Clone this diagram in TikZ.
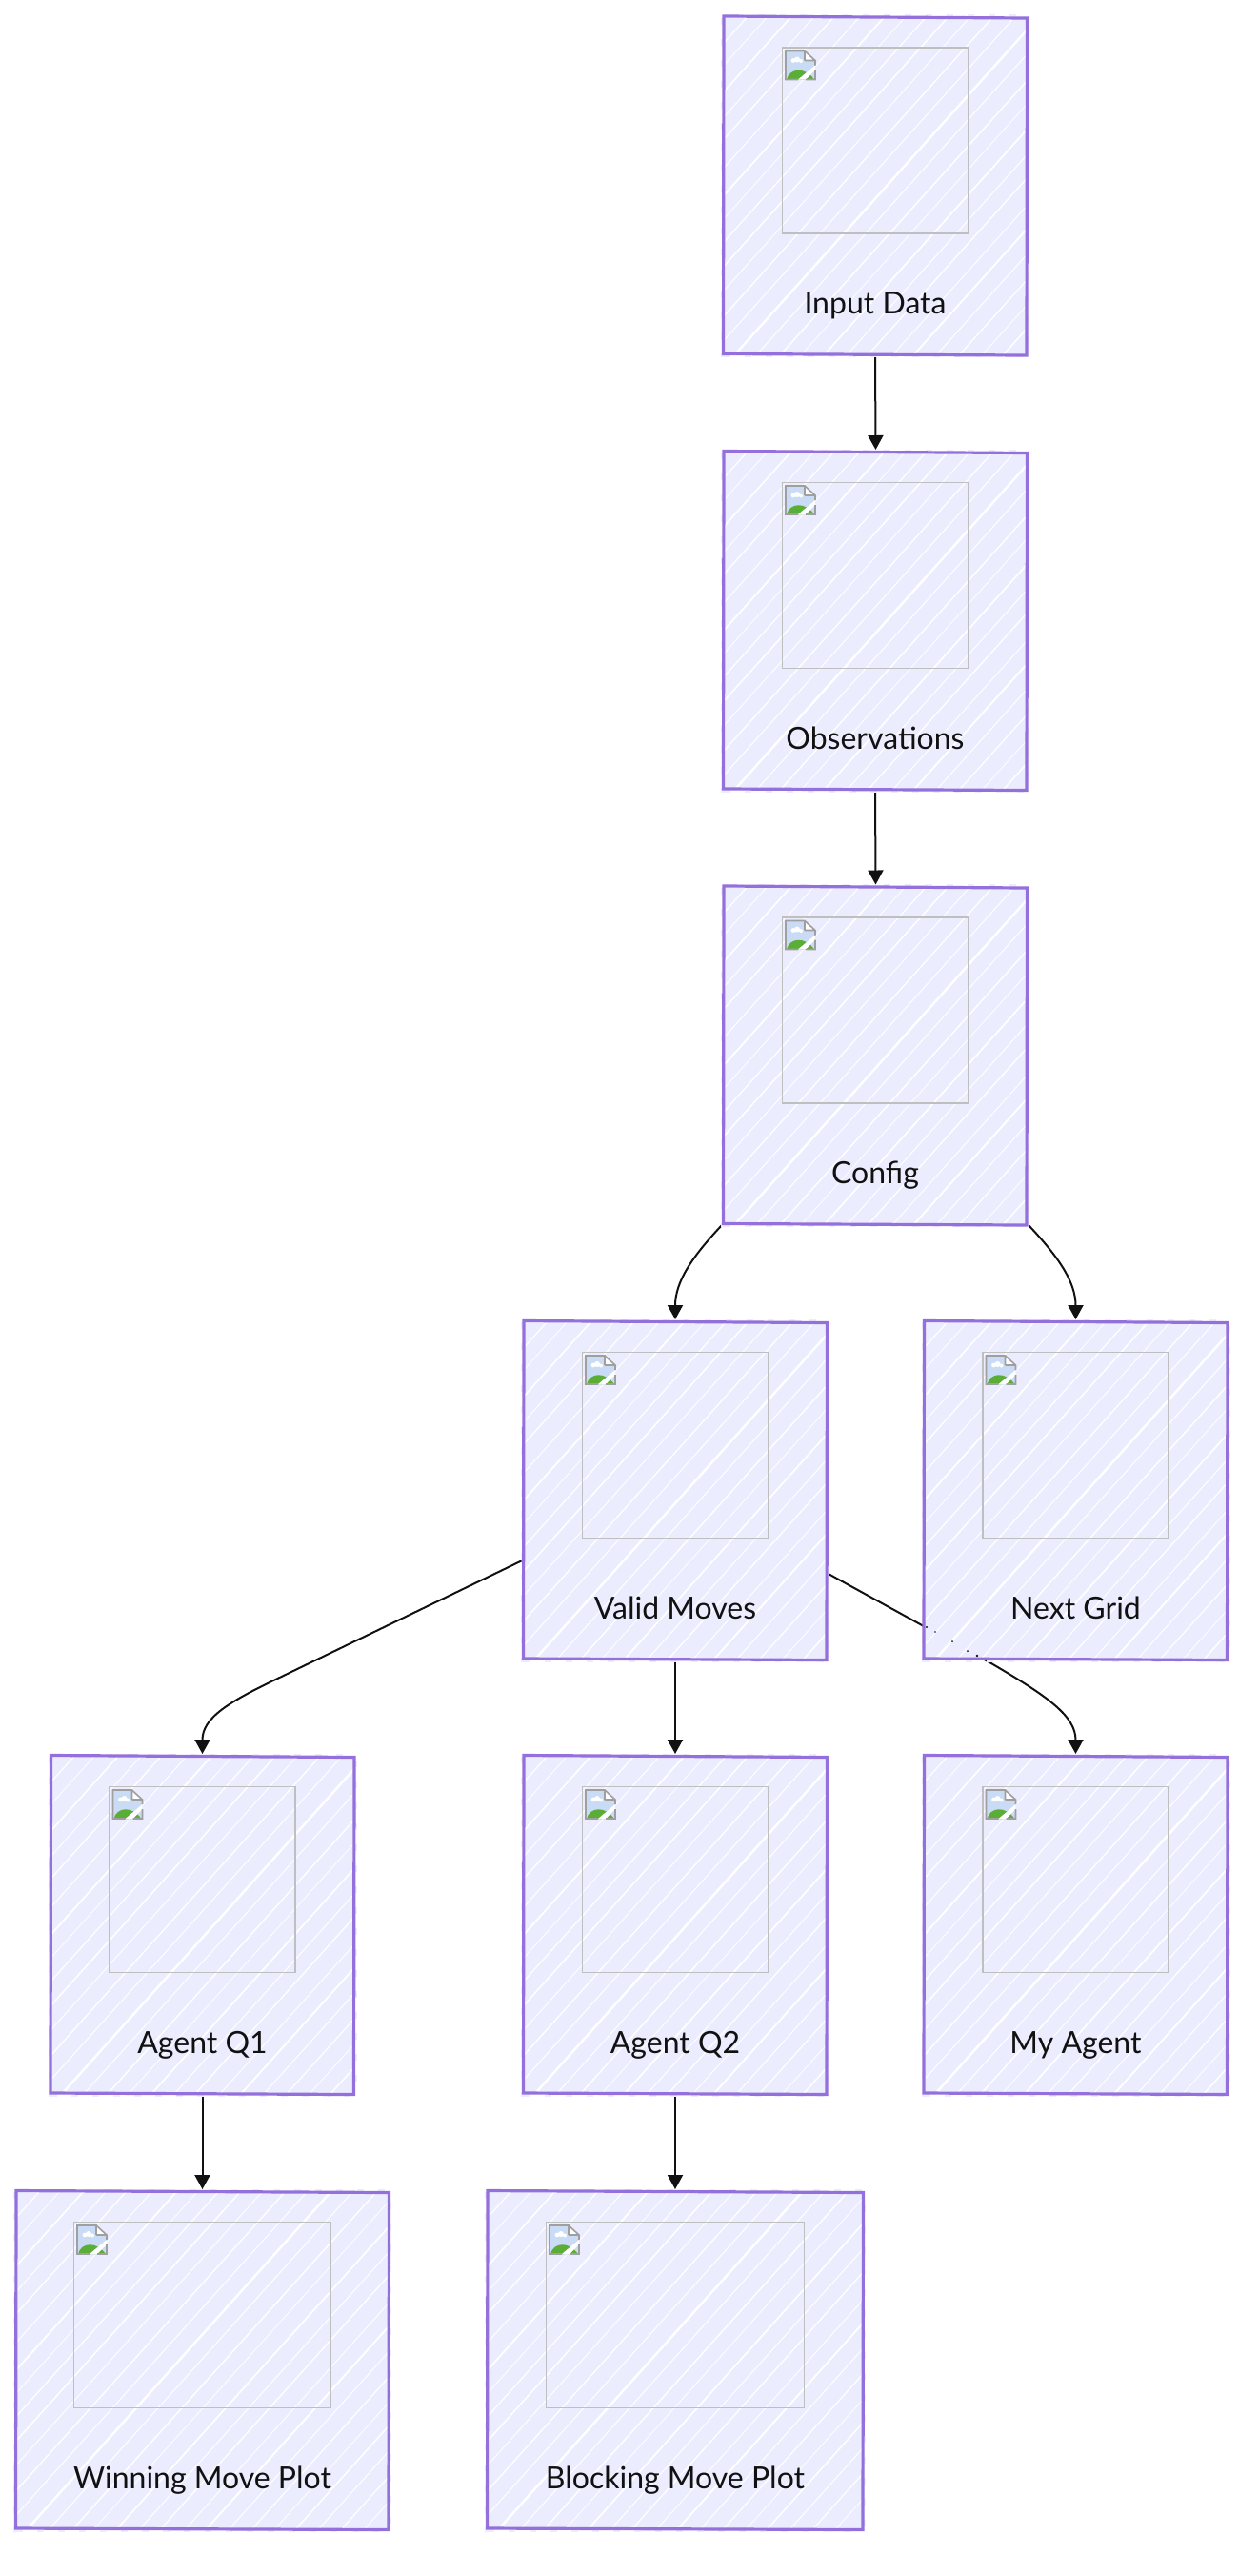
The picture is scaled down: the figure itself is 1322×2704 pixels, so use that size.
\documentclass[tikz,border=0pt]{standalone}
\usepackage{fontspec}
\setmainfont{Lato}
\usetikzlibrary{arrows.meta,backgrounds}
\definecolor{cardfill}{HTML}{ECECFF}
\definecolor{cardline}{HTML}{9370DB}
\definecolor{imgline}{HTML}{BFBFBF}
\definecolor{inkline}{HTML}{111111}
\definecolor{skyblue}{HTML}{BDD2F2}
\definecolor{hillgreen}{HTML}{5BAE35}
\newcommand{\hatchlines}{%
  \foreach \c/\w in {-320/1,-296/1.2,-275/.8,-250/1.6,-226/.9,-205/1.3,-178/1,-152/1.8,-130/.8,-108/1.2,-85/1.5,-62/.9,-38/1.3,-15/1,10/2.4,33/1,58/1.4,80/.8,104/1.7,128/1,150/1.3,176/.9,198/1.9,222/1,246/1.2,270/.8,292/1.5,316/1,340/1.2,364/.9}{
    \draw[white,line width=\w] ([shift={(\c,2)}]path picture bounding box.south west) -- ++(360,-400);
  }}
\tikzset{
  x=1pt,y=-1pt,
  cardbox/.style={rectangle,fill=cardfill,inner sep=0,outer sep=0,minimum height=353pt,
    path picture={\hatchlines}},
  cardborder/.style={draw=cardline,line width=3.2,line join=miter},
  cardbump/.style={draw=cardfill,line width=7,dash pattern=on 7pt off 15pt},
  innerbox/.style={rectangle,draw=imgline,line width=1.8,inner sep=0,outer sep=0,minimum height=195pt},
  cardlabel/.style={anchor=base,inner sep=0,text=inkline,font=\fontsize{32}{38}\selectfont},
  edge/.style={draw=inkline,line width=2,-{Triangle[length=15pt,width=16pt]}},
  specks/.style={fill=inkline},
}
% name, centre x, top y, width, inner width, text
\newcommand{\mycard}[6]{%
  \path[cardbump] (#2-#4/2,#3) rectangle (#2+#4/2,#3+353);
  \node[cardbox,minimum width=#4pt] (#1) at (#2,#3+176.5) {};
  \draw[cardborder] ([shift={(-.5,-1.5)}]#1.north west) -- ([shift={(1,.5)}]#1.north east)
     -- ([shift={(.5,1.5)}]#1.south east) -- ([shift={(-1,0)}]#1.south west) -- cycle;
  \node[innerbox,minimum width=#5pt] (#1img) at (#2,#3+31.5+97.5) {};
  \begin{scope}[shift={(#1img.north west)},shift={(3.5,3.5)}]
    \fill[skyblue!80!white] (0,0) -- (20,0) -- (31,10) -- (31,30) -- (0,30) -- cycle;
    \fill[white] (8,10) circle (2.4) (12,9) circle (3) (16,10.5) circle (2);
    \fill[hillgreen] (1,30) .. controls (4,18) and (20,16) .. (30,30) -- cycle;
    \fill[white] (13,30) -- (31,15) -- (31,20) -- (21,30) -- cycle;
    \fill[white] (20,0) -- (31,10) -- (20,10) -- cycle;
    \draw[gray!75,line width=1.6] (20,10) -- (20,0) -- (0,0) -- (0,30) -- (13,30)
      (21,30) -- (31,30) -- (31,20) (31,15) -- (31,10) -- (20,0) (31,10) -- (20,10);
  \end{scope}
  \node[cardlabel] (#1txt) at (#2,#3+311) {#6};
}
\begin{document}
\begin{tikzpicture}
\useasboundingbox (0,0) rectangle (1322,2704);
\mycard{input}{919}{18.5}{317}{195}{Input Data}
\mycard{obs}{919}{475}{317}{195}{Observations}
\mycard{config}{919}{931.5}{317}{195}{Config}
\mycard{valid}{709}{1388}{317}{195}{Valid Moves}
\mycard{next}{1129.5}{1388}{317}{195}{Next Grid}
\mycard{qone}{212.5}{1844}{317}{195}{Agent Q1}
\mycard{qtwo}{709}{1844}{317}{195}{Agent Q2}
\mycard{mine}{1129.5}{1844}{317}{195}{My Agent}
\mycard{win}{212.5}{2301}{390}{270}{Winning Move Plot}
\mycard{block}{709}{2301}{393}{271}{Blocking Move Plot}
\begin{scope}[on background layer]
  \fill[white] (0,0) rectangle (1322,2704);
  \draw[edge] ([shift={(0,3)}]input.south) -- ([shift={(.5,-3)}]obs.north);
  \draw[edge] ([shift={(0,3)}]obs.south) -- ([shift={(.5,-3)}]config.north);
  \draw[edge] ([shift={(-3,2)}]config.south west) .. controls +(-30,32) and +(0,-40) .. ([shift={(0,-3)}]valid.north);
  \draw[edge] ([shift={(3,2)}]config.south east) .. controls +(30,32) and +(0,-40) .. ([shift={(0,-3)}]next.north);
  \draw[edge] ([shift={(-3,0)}]valid.205.5) -- ++(-257,124) .. controls +(-50,24) and +(0,-38) .. ([shift={(0,-3)}]qone.north);
  \draw[edge] ([shift={(0,3)}]valid.south) -- ([shift={(0,-3)}]qtwo.north);
  \draw[edge] ([shift={(3,0)}]valid.-29.5) -- ++(171,94) .. controls +(58,34) and +(0,-40) .. ([shift={(0,-3)}]mine.north);
  \draw[edge] ([shift={(0,3)}]qone.south) -- ([shift={(0,-3)}]win.north);
  \draw[edge] ([shift={(0,3)}]qtwo.south) -- ([shift={(0,-3)}]block.north);
\end{scope}
\fill[specks] (973,1708) circle (1.2) (982,1713) circle (.9) (1000,1723) circle (1) (1016,1733) circle (1) (1026,1738) circle (1.4);
\end{tikzpicture}
\end{document}
